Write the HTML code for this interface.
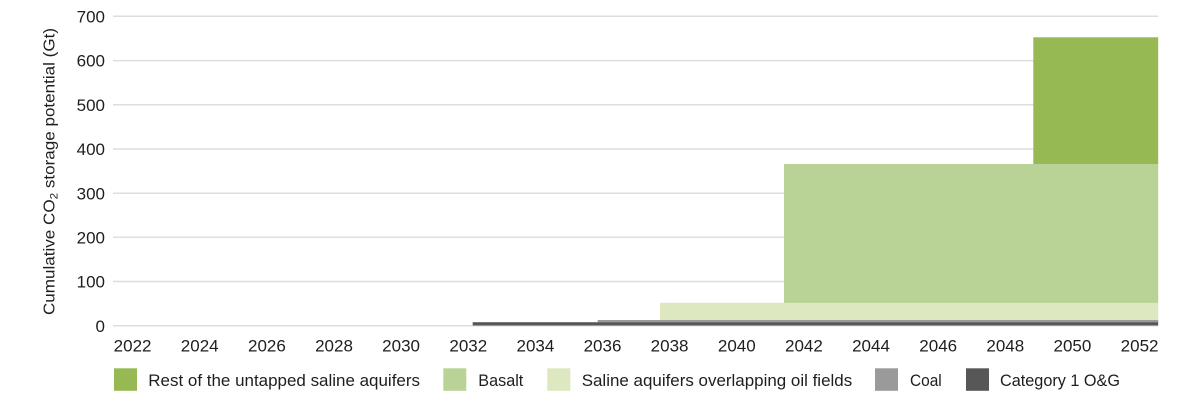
<!DOCTYPE html>
<html>
<head>
<meta charset="utf-8">
<style>
  html, body { margin: 0; padding: 0; background: #ffffff; }
  svg { display: block; }
  text { font-family: "Liberation Sans", "DejaVu Sans", sans-serif; fill: #1e1e1e; }
</style>
</head>
<body>
<svg width="1200" height="400" viewBox="0 0 1200 400" xmlns="http://www.w3.org/2000/svg">
  <rect x="0" y="0" width="1200" height="400" fill="#ffffff"/>

  <!-- gridlines -->
  <g stroke="#dedede" stroke-width="1.5">
    <line x1="113" y1="16.2" x2="1158" y2="16.2"/>
    <line x1="113" y1="60.6" x2="1158" y2="60.6"/>
    <line x1="113" y1="104.8" x2="1158" y2="104.8"/>
    <line x1="113" y1="149" x2="1158" y2="149"/>
    <line x1="113" y1="193.2" x2="1158" y2="193.2"/>
    <line x1="113" y1="237.3" x2="1158" y2="237.3"/>
    <line x1="113" y1="281.5" x2="1158" y2="281.5"/>
    <line x1="113" y1="325.8" x2="1158" y2="325.8"/>
  </g>

  <!-- series -->
  <rect x="1033.3" y="37.3" width="124.9" height="127" fill="#96b953"/>
  <rect x="784" y="164" width="374.2" height="139" fill="#b9d295"/>
  <rect x="660" y="302.8" width="498.2" height="17.4" fill="#dde8c0"/>
  <rect x="597.7" y="320" width="560.5" height="2.3" fill="#9a9a9a"/>
  <rect x="472.7" y="322.2" width="685.5" height="3.3" fill="#575757"/>

  <!-- y tick labels -->
  <g font-size="17" text-anchor="end">
    <text x="105" y="22.4">700</text>
    <text x="105" y="66.7">600</text>
    <text x="105" y="110.9">500</text>
    <text x="105" y="155.1">400</text>
    <text x="105" y="199.3">300</text>
    <text x="105" y="243.4">200</text>
    <text x="105" y="287.6">100</text>
    <text x="105" y="331.9">0</text>
  </g>

  <!-- y axis title -->
  <text transform="translate(54.5,171.5) rotate(-90)" font-size="16" text-anchor="middle" textLength="287" lengthAdjust="spacingAndGlyphs">Cumulative CO<tspan font-size="11" dy="3">2</tspan><tspan dy="-3"> storage potential (Gt)</tspan></text>

  <!-- x tick labels -->
  <g font-size="17" text-anchor="middle">
    <text x="132.6" y="351.7">2022</text>
    <text x="199.7" y="351.7">2024</text>
    <text x="266.9" y="351.7">2026</text>
    <text x="334.0" y="351.7">2028</text>
    <text x="401.1" y="351.7">2030</text>
    <text x="468.3" y="351.7">2032</text>
    <text x="535.4" y="351.7">2034</text>
    <text x="602.5" y="351.7">2036</text>
    <text x="669.6" y="351.7">2038</text>
    <text x="736.8" y="351.7">2040</text>
    <text x="803.9" y="351.7">2042</text>
    <text x="871.0" y="351.7">2044</text>
    <text x="938.2" y="351.7">2046</text>
    <text x="1005.3" y="351.7">2048</text>
    <text x="1072.4" y="351.7">2050</text>
    <text x="1139.6" y="351.7">2052</text>
  </g>

  <!-- legend -->
  <g font-size="17">
    <rect x="114" y="368.3" width="23" height="22.5" fill="#96b953"/>
    <text x="148.3" y="386" textLength="271.7" lengthAdjust="spacingAndGlyphs">Rest of the untapped saline aquifers</text>

    <rect x="443.3" y="368.3" width="23" height="22.5" fill="#b9d295"/>
    <text x="478.3" y="386" textLength="45" lengthAdjust="spacingAndGlyphs">Basalt</text>

    <rect x="547.3" y="368.3" width="23" height="22.5" fill="#dde8c0"/>
    <text x="581.7" y="386" textLength="270.5" lengthAdjust="spacingAndGlyphs">Saline aquifers overlapping oil fields</text>

    <rect x="875" y="368.3" width="23" height="22.5" fill="#9a9a9a"/>
    <text x="910" y="386" textLength="31.7" lengthAdjust="spacingAndGlyphs">Coal</text>

    <rect x="966" y="368.3" width="23" height="22.5" fill="#575757"/>
    <text x="1000" y="386" textLength="120" lengthAdjust="spacingAndGlyphs">Category 1 O&amp;G</text>
  </g>
</svg>
</body>
</html>
